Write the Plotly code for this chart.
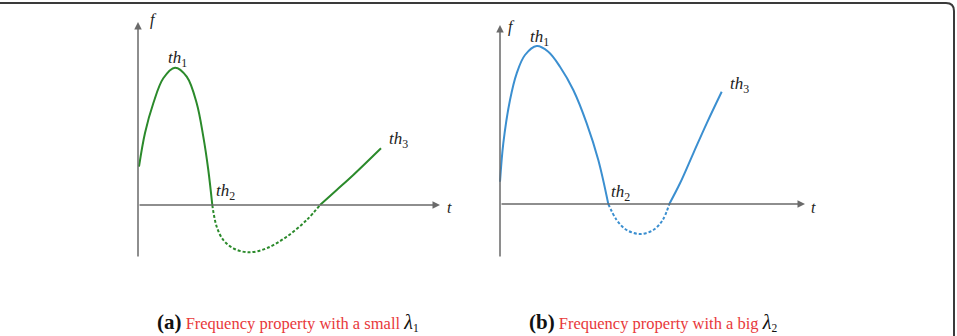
import plotly.graph_objects as go

# ---------------- data (arbitrary units) ----------------
# Panel (a): small lambda
a_t_up = [0.1, 0.7, 1.53, 2.53, 3.7, 4.87, 5.87, 6.53, 7.03, 7.43]
a_f_up = [3.83, 7.2, 10.17, 12.67, 13.73, 12.83, 10.17, 6.83, 3.5, 0.0]
a_t_neg = [7.43, 7.87, 8.53, 9.53, 11.03, 12.87, 14.87, 16.87, 18.2]
a_f_neg = [0.0, -2.17, -3.5, -4.33, -4.73, -4.33, -3.17, -1.5, 0.0]
a_t_end = [18.2, 19.87, 21.53, 24.3]
a_f_end = [0.0, 1.5, 3.0, 5.67]

# Panel (b): big lambda
b_t_up = [0.0, 0.33, 1.0, 1.67, 2.5, 3.67, 4.83, 6.0, 7.33, 8.67, 9.83, 10.83]
b_f_up = [2.23, 6.07, 10.4, 13.07, 14.9, 15.8, 15.23, 13.73, 11.4, 8.07, 4.4, 0.0]
b_t_neg = [10.83, 11.67, 12.67, 14.0, 15.33, 16.27, 16.93]
b_f_neg = [0.0, -1.6, -2.6, -3.0, -2.6, -1.6, 0.0]
b_t_end = [16.93, 18.0, 19.33, 20.67, 22.17]
b_f_end = [0.0, 2.07, 5.07, 8.07, 11.23]

# threshold labels: (t of left edge, f, subscript)
a_labels = [(2.8, 14.6, "1"), (7.6, 1.3, "2"), (24.9, 6.5, "3")]
b_labels = [(2.8, 16.6, "1"), (10.9, 1.1, "2"), (22.8, 11.9, "3")]

captions = [
    ("(a)", "Frequency property with a small ", "1"),
    ("(b)", "Frequency property with a big ", "2"),
]

GREEN = "#2b8a2b"
BLUE = "#3b8fd0"
AXC = "#6a6a6a"
SERIF = "Liberation Serif"
W, H = 957, 336

fig = go.Figure()

def add_curve(t, f, color, dash, xa, ya):
    fig.add_trace(go.Scatter(
        x=t, y=f, mode="lines", xaxis=xa, yaxis=ya,
        line=dict(color=color, width=2, shape="spline", smoothing=1.0, dash=dash),
        hoverinfo="skip", showlegend=False))

add_curve(a_t_up, a_f_up, GREEN, "solid", "x", "y")
add_curve(a_t_neg, a_f_neg, GREEN, "3px,2px", "x", "y")
add_curve(a_t_end, a_f_end, GREEN, "solid", "x", "y")
add_curve(b_t_up, b_f_up, BLUE, "solid", "x2", "y2")
add_curve(b_t_neg, b_f_neg, BLUE, "3px,2px", "x2", "y2")
add_curve(b_t_end, b_f_end, BLUE, "solid", "x2", "y2")

annotations = []

def axis_arrows(xr, yr, ybot, ytop, xend, fpos, tpos):
    annotations.append(dict(x=0, y=ytop, ax=0, ay=ybot, xref=xr, yref=yr,
                            axref=xr, ayref=yr, text="", showarrow=True,
                            arrowhead=2, arrowsize=1, arrowwidth=1.5,
                            arrowcolor=AXC, standoff=0, startstandoff=0))
    annotations.append(dict(x=xend, y=0, ax=0, ay=0, xref=xr, yref=yr,
                            axref=xr, ayref=yr, text="", showarrow=True,
                            arrowhead=2, arrowsize=1, arrowwidth=1.5,
                            arrowcolor=AXC, standoff=0, startstandoff=0))
    annotations.append(dict(x=fpos[0], y=fpos[1], xref=xr, yref=yr, text="<i>f</i>",
                            showarrow=False, font=dict(family=SERIF, size=16, color="#222")))
    annotations.append(dict(x=tpos[0], y=tpos[1], xref=xr, yref=yr, text="<i>t</i>",
                            showarrow=False, font=dict(family=SERIF, size=16, color="#222")))

axis_arrows("x", "y", -5.3, 18.3, 30.2, (1.5, 18.5), (31.1, -0.2))
axis_arrows("x2", "y2", -5.4, 17.9, 30.5, (1.2, 17.7), (31.3, -0.3))

for xr, yr, labs in (("x", "y", a_labels), ("x2", "y2", b_labels)):
    for t, f, s in labs:
        annotations.append(dict(x=t, y=f, xref=xr, yref=yr, xanchor="left",
                                text=f"<i>th</i><sub>{s}</sub>", showarrow=False,
                                font=dict(family=SERIF, size=17, color="#222")))

cap_x = [155, 527]
for (tag, body, sub), px in zip(captions, cap_x):
    annotations.append(dict(
        x=px / W, y=1 - 322 / H, xref="paper", yref="paper",
        xanchor="left", yanchor="middle", showarrow=False,
        text=(f"<b><span style='font-size:21px'>{tag}</span></b> "
              f"<span style='color:#e8393b'>{body}</span>"
              f"<i><span style='font-size:20px'>λ</span></i><sub>{sub}</sub>"),
        font=dict(family=SERIF, size=16.5, color="#111")))

def px_(x): return x / W
def py_(y): return 1 - y / H
frame = (f"M {px_(-10)},{py_(3)} L {px_(946)},{py_(3)} "
         f"Q {px_(954)},{py_(3)} {px_(954)},{py_(11)} L {px_(954)},{py_(345)}")

fig.update_layout(
    width=W, height=H, margin=dict(l=0, r=0, t=0, b=0),
    paper_bgcolor="white", plot_bgcolor="white",
    font=dict(family=SERIF),
    xaxis=dict(domain=[118 / W, 478 / W], range=[-2, 34], visible=False),
    yaxis=dict(domain=[1 - 280 / H, 1 - 10 / H], range=[-7.5, 19.5], visible=False),
    xaxis2=dict(domain=[480 / W, 840 / W], range=[-2, 34], visible=False, anchor="y2"),
    yaxis2=dict(domain=[1 - 280 / H, 1 - 10 / H], range=[-7.6, 19.4], visible=False, anchor="x2"),
    annotations=annotations,
    shapes=[dict(type="path", xref="paper", yref="paper", path=frame,
                 line=dict(color="#3a3a3a", width=2))],
    showlegend=False,
)

fig.write_html("out.html")
